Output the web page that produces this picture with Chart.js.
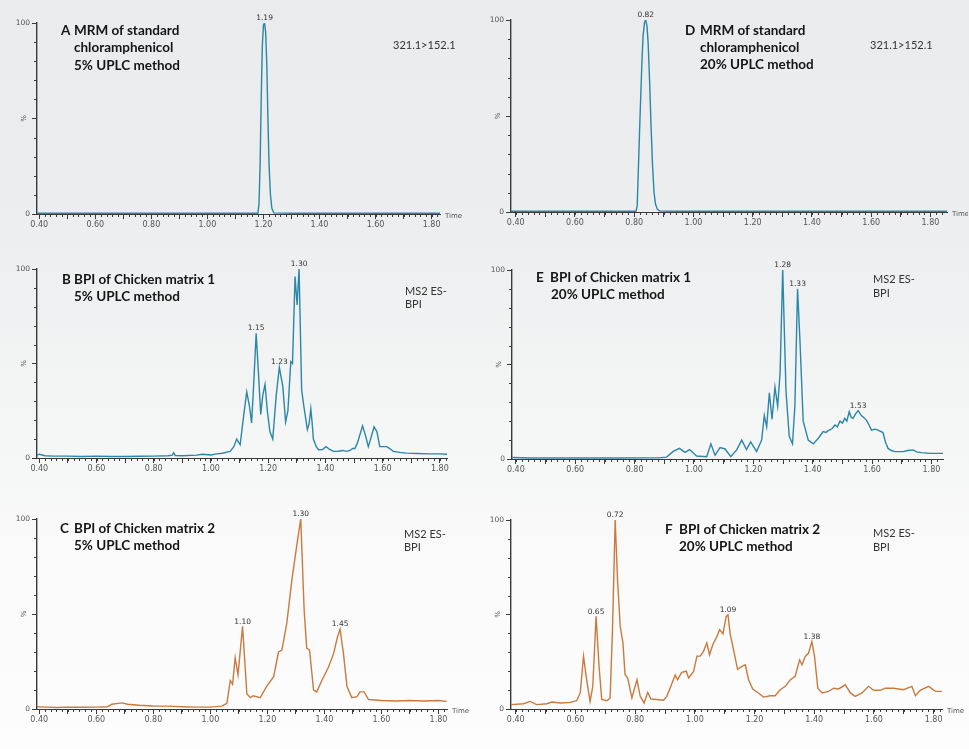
<!DOCTYPE html>
<html><head><meta charset="utf-8">
<script src="https://cdn.jsdelivr.net/npm/chart.js@4"></script>
<style>
html,body{margin:0;padding:0;}
body{width:969px;height:749px;position:relative;overflow:hidden;
 background:linear-gradient(180deg,#e9ebec 0%,#eceeef 30%,#f4f5f5 55%,#fafafa 75%,#fdfdfd 100%);}
canvas{position:absolute;}
.t{position:absolute;font-family:Lato,"Noto Sans",sans-serif;font-weight:700;font-size:13.5px;color:#151515;white-space:nowrap;line-height:16px;}
.n{position:absolute;font-family:Lato,"Noto Sans",sans-serif;font-weight:400;font-size:11px;color:#333;white-space:nowrap;line-height:13px;}
</style></head><body>
<script>
// ---------- DATA (time in min, intensity in %) ----------
const xTickLabels = [0.40,0.60,0.80,1.00,1.20,1.40,1.60,1.80];
const xMajorTicks = [0.40,0.50,0.60,0.70,0.80,0.90,1.00,1.10,1.20,1.30,1.40,1.50,1.60,1.70,1.80];
const yMajorTicks = [0,50,100];
const yMinorTicks = [10,20,30,40,60,70,80,90];

// A: MRM of standard chloramphenicol, 5% UPLC
const seriesA = [[0.392,0.4],[0.50,0.4],[0.60,0.4],[0.70,0.4],[0.80,0.4],[0.90,0.4],[1.00,0.4],[1.10,0.4],[1.180,0.4],
 [1.184,5],[1.188,25],[1.192,60],[1.196,88],[1.200,99],[1.204,100],[1.208,95],[1.212,78],[1.216,50],[1.220,26],
 [1.225,10],[1.230,3],[1.237,0.6],[1.30,0.4],[1.40,0.4],[1.50,0.4],[1.60,0.4],[1.70,0.4],[1.80,0.4],[1.83,0.4]];
const peaksA = [[1.204,100,'1.19']];

// D: MRM of standard chloramphenicol, 20% UPLC
const seriesD = [[0.384,0.4],[0.50,0.4],[0.60,0.4],[0.70,0.4],[0.78,0.4],[0.806,0.4],[0.810,3],[0.814,22],[0.818,42],
 [0.822,60],[0.826,78],[0.830,92],[0.835,99],[0.839,100],[0.843,97],[0.847,88],[0.852,68],[0.857,44],[0.862,24],
 [0.867,10],[0.872,4],[0.878,1.5],[0.886,0.5],[0.95,0.4],[1.10,0.4],[1.30,0.4],[1.50,0.4],[1.70,0.4],[1.856,0.4]];
const peaksD = [[0.839,100,'0.82']];

// B: BPI of Chicken matrix 1, 5% UPLC
const seriesB = [[0.392,1.5],[0.40,2.0],[0.42,1.2],[0.45,1.0],[0.50,1.0],[0.55,0.8],[0.60,1.0],[0.65,0.8],[0.70,0.8],
 [0.75,0.9],[0.80,1.0],[0.85,1.2],[0.865,1.5],[0.870,2.8],[0.875,1.3],[0.90,1.2],[0.95,1.5],[0.97,2.0],[1.00,1.6],
 [1.02,2.2],[1.04,2.5],[1.067,3.5],[1.08,6],[1.09,10],[1.102,7],[1.114,22],[1.125,35],[1.135,27],[1.142,18.5],
 [1.148,35],[1.158,66],[1.166,45],[1.174,23],[1.181,33],[1.189,39],[1.197,25],[1.206,14],[1.216,10],[1.228,33],
 [1.239,48],[1.251,38],[1.261,19],[1.269,25],[1.279,51],[1.285,50],[1.294,96],[1.301,81],[1.308,100],[1.317,36],
 [1.325,27],[1.337,15],[1.343,18],[1.349,26],[1.354,18],[1.358,10],[1.368,6],[1.376,4.4],[1.390,4.5],[1.402,6],
 [1.415,4.5],[1.428,3.5],[1.445,3.6],[1.46,4],[1.475,3.5],[1.486,4],[1.495,5],[1.503,5],[1.512,8],[1.520,12],
 [1.530,17],[1.540,12],[1.550,6],[1.558,10],[1.570,16.5],[1.580,14],[1.590,6],[1.600,6],[1.614,6],[1.625,5],
 [1.637,3.5],[1.66,3],[1.683,2.6],[1.72,2.4],[1.76,2.2],[1.80,2.2],[1.825,2.0]];
const peaksB = [[1.158,66,'1.15'],[1.239,48,'1.23'],[1.308,100,'1.30']];

// E: BPI of Chicken matrix 1, 20% UPLC
const seriesE = [[0.387,0.8],[0.45,0.5],[0.55,0.5],[0.65,0.5],[0.75,0.5],[0.85,0.6],[0.88,0.6],[0.908,1],[0.93,4],
 [0.951,5.6],[0.97,3.5],[0.985,5],[1.009,1.6],[1.043,1.2],[1.057,8],[1.071,2],[1.088,6],[1.105,5.3],[1.124,1.2],
 [1.144,4.8],[1.161,10],[1.177,5],[1.191,9],[1.211,4],[1.228,10],[1.237,23],[1.245,17],[1.254,35],[1.263,21],
 [1.273,38],[1.282,28],[1.290,45],[1.299,100],[1.310,36],[1.321,12],[1.332,8],[1.340,28],[1.349,90],[1.357,63],
 [1.368,20],[1.385,10],[1.402,8],[1.419,11],[1.435,14.5],[1.445,14],[1.452,15],[1.465,16],[1.475,18],[1.483,17],
 [1.492,20],[1.500,19],[1.508,21.5],[1.515,20],[1.523,25],[1.530,22],[1.536,21.5],[1.545,24],[1.553,25.6],
 [1.564,23],[1.572,22],[1.581,20.6],[1.590,18],[1.598,15.3],[1.610,15.8],[1.620,15.3],[1.637,14],[1.645,9],
 [1.654,5.6],[1.665,4.5],[1.677,3.9],[1.705,3.9],[1.720,4.5],[1.738,4.8],[1.750,3.8],[1.766,3.4],[1.794,3],[1.839,3]];
const peaksE = [[1.299,100,'1.28'],[1.349,90,'1.33'],[1.553,25.6,'1.53']];

// C: BPI of Chicken matrix 2, 5% UPLC
const seriesC = [[0.392,1.2],[0.42,1.0],[0.46,0.8],[0.50,1.0],[0.55,0.9],[0.60,1.0],[0.64,1.2],[0.655,2.5],[0.67,2.8],
 [0.69,3.2],[0.71,2.5],[0.75,2.0],[0.80,1.6],[0.85,1.5],[0.90,1.2],[0.95,1.0],[1.00,1.0],[1.04,1.5],[1.058,3],
 [1.070,15],[1.078,13],[1.087,27],[1.097,18],[1.113,43.5],[1.128,8],[1.140,6],[1.150,7],[1.175,6],[1.198,12],
 [1.222,17],[1.239,30],[1.251,31],[1.268,45],[1.286,68],[1.303,86],[1.317,100],[1.329,52],[1.338,32],[1.348,31],
 [1.362,10],[1.373,9],[1.391,15],[1.414,22],[1.432,29],[1.446,38],[1.455,42],[1.467,29],[1.479,12],[1.496,6],
 [1.514,6.5],[1.525,9],[1.539,9],[1.555,5],[1.60,4.5],[1.65,4.2],[1.70,4.5],[1.75,4.2],[1.80,4.5],[1.829,4]];
const peaksC = [[1.113,43.5,'1.10'],[1.317,100,'1.30'],[1.455,42,'1.45']];

// F: BPI of Chicken matrix 2, 20% UPLC
const seriesF = [[0.384,2.3],[0.426,2.8],[0.448,4],[0.470,2.3],[0.504,2.8],[0.521,3.7],[0.549,3.2],[0.582,3.5],
 [0.604,4.4],[0.616,8.5],[0.627,28],[0.636,17],[0.649,4],[0.658,12],[0.669,49],[0.679,22.5],[0.688,5],[0.705,4.4],
 [0.716,5.8],[0.724,42],[0.733,100],[0.741,68],[0.750,43.7],[0.759,35],[0.766,18.3],[0.775,16.4],[0.789,5.8],
 [0.806,15.5],[0.817,6.7],[0.830,3.2],[0.842,8.8],[0.853,5.3],[0.873,5],[0.895,4.6],[0.906,6.7],[0.917,11],
 [0.934,18],[0.942,15.5],[0.956,19.4],[0.971,20],[0.979,16.4],[0.996,20],[1.007,28],[1.018,28],[1.029,30.5],
 [1.040,35],[1.049,28.7],[1.060,34],[1.074,38.4],[1.083,42],[1.094,39.8],[1.105,49],[1.111,49.8],[1.118,40],
 [1.132,29.6],[1.143,21],[1.158,22.5],[1.169,23.4],[1.180,15.5],[1.194,10.6],[1.213,8.5],[1.230,6.3],[1.252,7],
 [1.269,7],[1.286,10.2],[1.303,12],[1.320,15.5],[1.336,17.3],[1.351,26],[1.359,23.4],[1.370,27.8],[1.381,29.6],
 [1.392,35.7],[1.401,27.8],[1.412,11],[1.426,8.5],[1.448,9.3],[1.465,11],[1.482,10.6],[1.504,12.8],[1.521,8.5],
 [1.537,6.7],[1.560,8.5],[1.582,12],[1.599,9.9],[1.621,9.9],[1.638,11],[1.666,11],[1.699,10.2],[1.727,12],
 [1.739,7],[1.755,9.9],[1.783,12],[1.806,9.3],[1.828,9.3]];
const peaksF = [[0.669,49,'0.65'],[0.733,100,'0.72'],[1.111,49.8,'1.09'],[1.392,35.7,'1.38']];

// ---------- STYLE ----------
const BLUE = '#2c86a8', ORANGE = '#c97a3e', AXIS = '#3a3a3a', TICKTXT = '#555';

const panels = [
 {series:seriesA, peaks:peaksA, color:BLUE,   xmin:0.392, xmax:1.83,  area:[37,23,440,214],  time:true,
  title:[['A',61,30],['MRM of standard',74,30],['chloramphenicol',74,47],['5% UPLC method',74,65]],
  note:[['321.1>152.1',393,44]]},
 {series:seriesD, peaks:peaksD, color:BLUE,   xmin:0.384, xmax:1.856, area:[511,20,947,212], time:true,
  title:[['D',685,30],['MRM of standard',700,30],['chloramphenicol',700,47],['20% UPLC method',700,64]],
  note:[['321.1>152.1',870,44]]},
 {series:seriesB, peaks:peaksB, color:BLUE,   xmin:0.392, xmax:1.825, area:[37,269,447,458], time:false,
  title:[['B',62,279],['BPI of Chicken matrix 1',74,279],['5% UPLC method',74,296]],
  note:[['MS2 ES-',405,290],['BPI',405,303]]},
 {series:seriesE, peaks:peaksE, color:BLUE,   xmin:0.387, xmax:1.839, area:[512,270,943,459], time:false,
  title:[['E',536,277],['BPI of Chicken matrix 1',550,277],['20% UPLC method',551,294]],
  note:[['MS2 ES-',873,278],['BPI',873,292]]},
 {series:seriesC, peaks:peaksC, color:ORANGE, xmin:0.392, xmax:1.83,  area:[37,519,447,709], time:true,
  title:[['C',60,528],['BPI of Chicken matrix 2',74,528],['5% UPLC method',74,545]],
  note:[['MS2 ES-',404,533],['BPI',404,546]]},
 {series:seriesF, peaks:peaksF, color:ORANGE, xmin:0.384, xmax:1.828, area:[511,520,942,709], time:true,
  title:[['F',665,529],['BPI of Chicken matrix 2',679,529],['20% UPLC method',679,546]],
  note:[['MS2 ES-',873,532],['BPI',873,546]]}
];

const Y_W = 37, X_H = 22, PAD_T = 12;

const extras = {
  id:'extras',
  afterDraw(chart, args, o){
    const ctx = chart.ctx, xs = chart.scales.x, ys = chart.scales.y, ca = chart.chartArea;
    ctx.save();
    ctx.strokeStyle = AXIS; ctx.lineWidth = 1;
    // minor ticks on x (every 0.02)
    for(let i=0;i<=72;i++){
      const v = Math.round((0.40 + i*0.02)*100)/100;
      if (v > xs.max) break;
      const px = Math.round(xs.getPixelForValue(v)) + 0.5;
      ctx.beginPath(); ctx.moveTo(px, ca.bottom); ctx.lineTo(px, ca.bottom+3); ctx.stroke();
    }
    // minor ticks on y (every 10)
    yMinorTicks.forEach(v=>{
      const py = Math.round(ys.getPixelForValue(v)) + 0.5;
      ctx.beginPath(); ctx.moveTo(ca.left, py); ctx.lineTo(ca.left-3, py); ctx.stroke();
    });
    // "%" rotated label
    ctx.fillStyle = TICKTXT;
    ctx.font = '7px "DejaVu Sans", sans-serif';
    ctx.translate(ca.left - 13, ys.getPixelForValue(50));
    ctx.rotate(-Math.PI/2);
    ctx.textAlign = 'center'; ctx.textBaseline = 'middle';
    ctx.fillText('%', 0, 0);
    ctx.setTransform(chart.currentDevicePixelRatio,0,0,chart.currentDevicePixelRatio,0,0);
    // Time label
    if (o.time){
      ctx.font = '7px "DejaVu Sans", sans-serif';
      ctx.textAlign = 'left'; ctx.textBaseline = 'middle';
      ctx.fillText('Time', ca.right + 5, ca.bottom + 2);
    }
    // peak labels
    ctx.fillStyle = '#333';
    ctx.font = '7.5px "DejaVu Sans", sans-serif';
    ctx.textAlign = 'center'; ctx.textBaseline = 'bottom';
    (o.peaks||[]).forEach(p=>{
      ctx.fillText(p[2], xs.getPixelForValue(p[0]), ys.getPixelForValue(p[1]) - 1);
    });
    ctx.restore();
  }
};

panels.forEach((p,i)=>{
  const [L,T,R,B] = p.area;
  const padR = p.time ? (R > 900 ? 968 - R : 26) : 22;
  const left = L - Y_W, top = T - PAD_T;
  const w = R + padR - left, h = B + X_H - top;
  const cv = document.createElement('canvas');
  cv.width = w; cv.height = h;
  cv.style.left = left+'px'; cv.style.top = top+'px';
  cv.style.width = w+'px'; cv.style.height = h+'px';
  document.body.appendChild(cv);

  new Chart(cv, {
    type:'line',
    data:{datasets:[{
      data: p.series.map(d=>({x:d[0], y:d[1]})),
      borderColor:p.color, borderWidth:1.4, pointRadius:0, tension:0, fill:false
    }]},
    options:{
      responsive:false, animation:false, devicePixelRatio:1,
      layout:{padding:{top:PAD_T, right:padR, left:0, bottom:0}},
      plugins:{legend:{display:false}, tooltip:{enabled:false}, extras:{peaks:p.peaks, time:p.time}},
      scales:{
        x:{type:'linear', min:p.xmin, max:p.xmax,
           afterBuildTicks:(s)=>{ s.ticks = xMajorTicks.map(v=>({value:v})); },
           afterFit:(s)=>{ s.height = X_H; },
           ticks:{autoSkip:false, maxRotation:0, padding:1, color:TICKTXT,
                  font:{size:8, family:'"DejaVu Sans", sans-serif'},
                  callback:(v)=> xTickLabels.some(t=>Math.abs(t-v)<1e-6) ? Number(v).toFixed(2) : ''},
           grid:{drawOnChartArea:false, drawTicks:true, tickLength:5, color:AXIS, tickColor:AXIS},
           border:{display:true, color:AXIS, width:1}},
        y:{type:'linear', min:0, max:100,
           afterBuildTicks:(s)=>{ s.ticks = yMajorTicks.map(v=>({value:v})); },
           afterFit:(s)=>{ s.width = Y_W; },
           ticks:{autoSkip:false, padding:2, color:TICKTXT,
                  font:{size:7.5, family:'"DejaVu Sans", sans-serif'},
                  callback:(v)=> v===100 ? '100' : (v===0 ? '0' : '')},
           grid:{drawOnChartArea:false, drawTicks:true, tickLength:5, color:AXIS, tickColor:AXIS},
           border:{display:true, color:AXIS, width:1.4}}
      }
    },
    plugins:[extras]
  });

  p.title.forEach(t=>{
    const d = document.createElement('div'); d.className='t'; d.textContent=t[0];
    d.style.left=t[1]+'px'; d.style.top=(t[2]-8)+'px'; document.body.appendChild(d);
  });
  p.note.forEach(t=>{
    const d = document.createElement('div'); d.className='n'; d.textContent=t[0];
    d.style.left=t[1]+'px'; d.style.top=(t[2]-6.5)+'px'; document.body.appendChild(d);
  });
});
</script>
</body></html>
